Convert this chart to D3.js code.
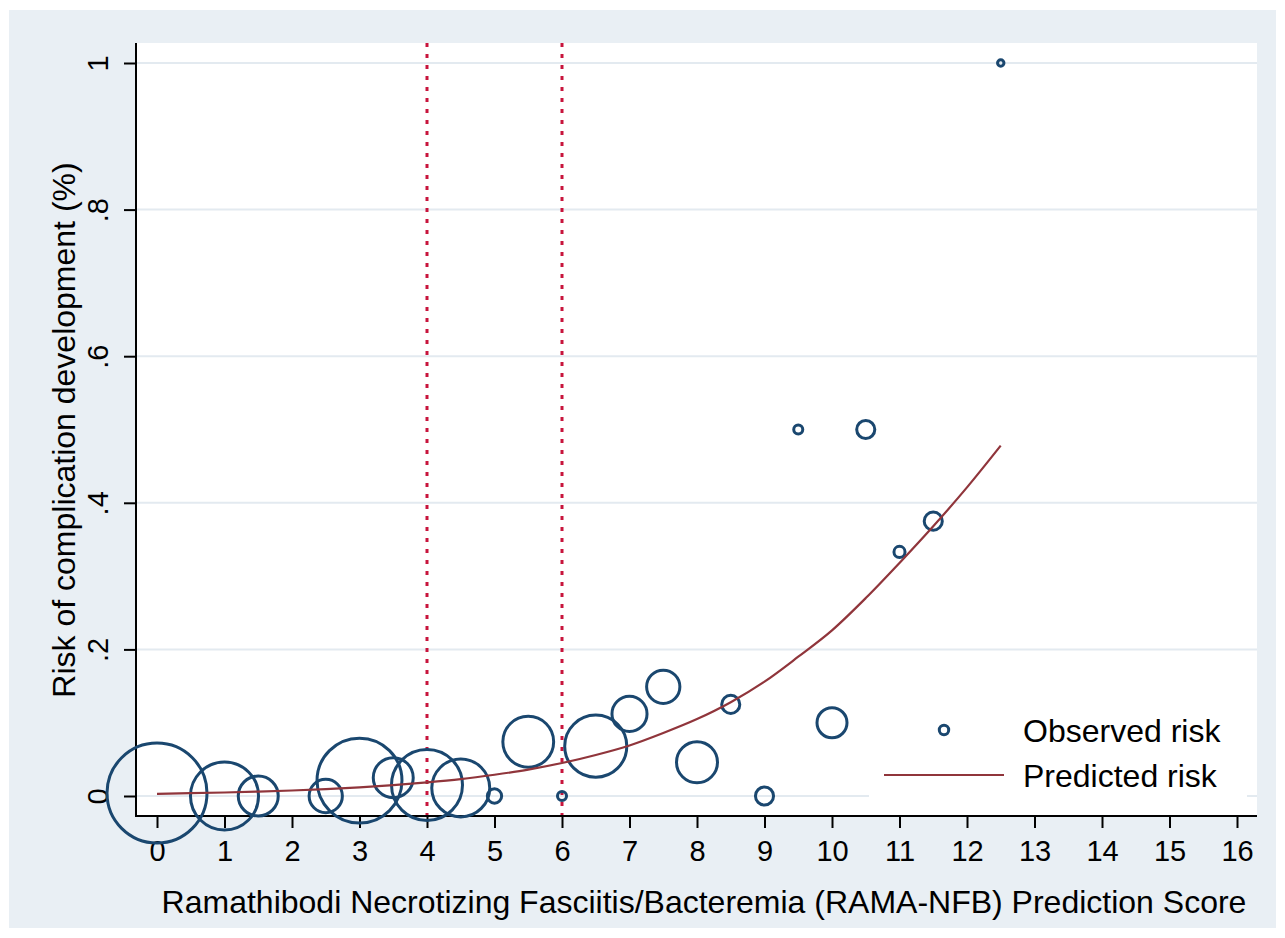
<!DOCTYPE html>
<html><head><meta charset="utf-8">
<script src="https://cdn.jsdelivr.net/npm/d3@7"></script>
<style>body{margin:0;background:#fff}</style>
</head><body>
<svg id="c" width="1285" height="938"></svg>
<script>
// ---- data ----
const scores        = [0, 1, 1.5, 2.5, 3, 3.5, 4, 4.5, 5, 5.5, 6, 6.5, 7, 7.5, 8, 8.5, 9, 9.5, 10, 10.5, 11, 11.5, 12.5];
const observedRisk  = [0.004, 0, 0, 0, 0.021, 0.025, 0.015, 0.011, 0, 0.074, 0, 0.068, 0.112, 0.149, 0.046, 0.125, 0, 0.5, 0.1, 0.5, 0.333, 0.375, 1];
const patientCounts = [244, 113, 39, 27, 176, 39, 123, 82, 5, 63, 2, 94, 30, 27, 41, 8, 8, 2, 22, 8, 3, 8, 1];
const predScores    = [0, 0.5, 1, 1.5, 2, 2.5, 3, 3.5, 4, 4.5, 5, 5.5, 6, 6.5, 7, 7.5, 8, 8.5, 9, 9.5, 10, 10.5, 11, 11.5, 12, 12.5];
const predictedRisk = [0.003, 0.0038, 0.0048, 0.006, 0.0075, 0.0094, 0.0118, 0.0148, 0.0185, 0.023, 0.029, 0.036, 0.045, 0.056, 0.069, 0.086, 0.105, 0.128, 0.156, 0.19, 0.226, 0.27, 0.318, 0.368, 0.421, 0.478];
const xTicks        = [0, 1, 2, 3, 4, 5, 6, 7, 8, 9, 10, 11, 12, 13, 14, 15, 16];
const yTicks        = [0, 0.2, 0.4, 0.6, 0.8, 1];
const yTickLabels   = ["0", ".2", ".4", ".6", ".8", "1"];
const cutoffs       = [4, 6];
const legendLabels  = ["Observed risk", "Predicted risk"];
const xTitle = "Ramathibodi Necrotizing Fasciitis/Bacteremia (RAMA-NFB) Prediction Score";
const yTitle = "Risk of complication development (%)";

// ---- layout ----
const FONT = "'Liberation Sans', Arial, Helvetica, sans-serif";
const plot = {left: 136, right: 1257, top: 43, bottom: 816};
const NAVY = "#1a476f", MAROON = "#90353b", CUT = "#c8143c", GRID = "#e3eaf0", BG = "#e9eff4";

const svg = d3.select("#c");
svg.append("rect").attr("x", 9).attr("y", 10).attr("width", 1267).attr("height", 918).attr("fill", BG);
svg.append("rect").attr("x", plot.left).attr("y", plot.top)
   .attr("width", plot.right - plot.left).attr("height", plot.bottom - plot.top).attr("fill", "#fff");

const x = d3.scaleLinear().domain([0, 16]).range([157, 1237]);
const y = d3.scaleLinear().domain([0, 1]).range([796, 63]);
const r = d3.scaleSqrt().domain([0, 244]).range([0, 50]);

// gridlines
svg.append("g").selectAll("line").data(yTicks).join("line")
  .attr("x1", plot.left).attr("x2", plot.right)
  .attr("y1", d => y(d)).attr("y2", d => y(d))
  .attr("stroke", GRID).attr("stroke-width", 2);

// cutoff lines
svg.append("g").selectAll("line").data(cutoffs).join("line")
  .attr("x1", d => x(d)).attr("x2", d => x(d))
  .attr("y1", plot.top).attr("y2", plot.bottom)
  .attr("stroke", CUT).attr("stroke-width", 3).attr("stroke-dasharray", "4,7");

// legend background (white box inside plot)
svg.append("rect").attr("x", 869).attr("y", 700).attr("width", 378).attr("height", 100).attr("fill", "#fff");

// axes
const xAxis = d3.axisBottom(x).tickValues(xTicks).tickSize(12).tickPadding(12).tickFormat(d3.format("d"));
const gx = svg.append("g").attr("transform", `translate(0,${plot.bottom})`).call(xAxis);
gx.select(".domain").remove();
gx.selectAll(".tick line").attr("stroke", "#000").attr("stroke-width", 2);
gx.selectAll(".tick text").attr("font-family", FONT).attr("font-size", 29).attr("fill", "#000");

const yAxis = d3.axisLeft(y).tickValues(yTicks).tickSize(12).tickFormat((d, i) => yTickLabels[i]);
const gy = svg.append("g").attr("transform", `translate(${plot.left},0)`).call(yAxis);
gy.select(".domain").remove();
gy.selectAll(".tick line").attr("stroke", "#000").attr("stroke-width", 2);
gy.selectAll(".tick text").attr("font-family", FONT).attr("font-size", 29).attr("fill", "#000")
  .attr("x", 0).attr("y", -28).attr("dy", 0).attr("text-anchor", "middle").attr("transform", "rotate(-90)");

// axis lines
svg.append("line").attr("x1", plot.left).attr("x2", plot.left).attr("y1", plot.top).attr("y2", plot.bottom + 1)
  .attr("stroke", "#000").attr("stroke-width", 2);
svg.append("line").attr("x1", plot.left).attr("x2", plot.right).attr("y1", plot.bottom).attr("y2", plot.bottom)
  .attr("stroke", "#000").attr("stroke-width", 2);

// observed bubbles
const obs = scores.map((s, i) => ({s, v: observedRisk[i], n: patientCounts[i]}));
svg.append("g").selectAll("circle").data(obs).join("circle")
  .attr("cx", d => x(d.s)).attr("cy", d => y(d.v)).attr("r", d => r(d.n))
  .attr("fill", "none").attr("stroke", NAVY).attr("stroke-width", 3);

// predicted curve
const pred = predScores.map((s, i) => [s, predictedRisk[i]]);
svg.append("path").datum(pred)
  .attr("d", d3.line().x(d => x(d[0])).y(d => y(d[1])).curve(d3.curveMonotoneX))
  .attr("fill", "none").attr("stroke", MAROON).attr("stroke-width", 2.2);

// legend
const lg = svg.append("g");
lg.append("circle").attr("cx", 944).attr("cy", 730).attr("r", r(1) + 1.5)
  .attr("fill", "none").attr("stroke", NAVY).attr("stroke-width", 3);
lg.append("line").attr("x1", 884).attr("x2", 1004).attr("y1", 775).attr("y2", 775)
  .attr("stroke", MAROON).attr("stroke-width", 2.2);
lg.selectAll("text").data(legendLabels).join("text")
  .attr("x", 1023).attr("y", (d, i) => 742 + i * 45)
  .attr("font-family", FONT).attr("font-size", 32).attr("fill", "#000").text(d => d);

// titles
svg.append("text").attr("x", 704).attr("y", 913).attr("text-anchor", "middle")
  .attr("font-family", FONT).attr("font-size", 32).attr("fill", "#000").text(xTitle);
svg.append("text").attr("transform", "translate(75,430) rotate(-90)").attr("text-anchor", "middle")
  .attr("font-family", FONT).attr("font-size", 32).attr("fill", "#000").text(yTitle);
</script>
</body></html>
